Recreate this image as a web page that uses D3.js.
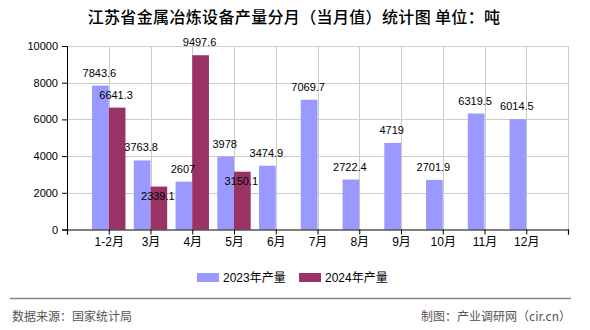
<!DOCTYPE html>
<html><head><meta charset="utf-8">
<script src="https://cdn.jsdelivr.net/npm/d3@7"></script>
<style>body{margin:0;background:#fff}svg{display:block}</style>
</head><body>
<script>
const categories = ["1-2月","3月","4月","5月","6月","7月","8月","9月","10月","11月","12月"];
const values2023 = [7843.6,3763.8,2607,3978,3474.9,7069.7,2722.4,4719,2701.9,6319.5,6014.5];
const values2024 = [6641.3,2339.1,9497.6,3150.1];
const labelPlace2024 = ["top","inside","top","inside"];
const yTicks = [0,2000,4000,6000,8000,10000];
const seriesNames = ["2023年产量","2024年产量"];
const colors = ["#9999FF","#993366"];

const W=590,H=330;
const svg=d3.select("body").append("svg").attr("width",W).attr("height",H);
const numFont='"Liberation Sans","Noto Sans CJK SC",sans-serif';
const cjkFont='"Noto Sans CJK SC",sans-serif';

const x=d3.scaleLinear().domain([0,12]).range([67,568]);
const y=d3.scaleLinear().domain([0,10000]).range([229.5,46]);
const step=x(1)-x(0);
const bw=step*0.4;

// grid
const g=svg.append("g");
g.selectAll(".hg").data(yTicks.filter(d=>d>0)).join("line")
  .attr("x1",x(0)).attr("x2",x(12)).attr("y1",d=>Math.round(y(d))+0.5).attr("y2",d=>Math.round(y(d))+0.5)
  .attr("stroke","#cccccc").attr("stroke-width",1);
g.selectAll(".vg").data(d3.range(1,13)).join("line")
  .attr("x1",d=>Math.round(x(d))+0.5).attr("x2",d=>Math.round(x(d))+0.5).attr("y1",y(10000)).attr("y2",y(0))
  .attr("stroke","#cccccc").attr("stroke-width",1);

// bars
svg.append("g").selectAll("rect").data(values2023).join("rect")
  .attr("x",(d,i)=>x(i+1)-bw).attr("width",bw)
  .attr("y",d=>y(d)).attr("height",d=>y(0)-y(d)).attr("fill",colors[0]);
svg.append("g").selectAll("rect").data(values2024).join("rect")
  .attr("x",(d,i)=>x(i+1)).attr("width",bw)
  .attr("y",d=>y(d)).attr("height",d=>y(0)-y(d)).attr("fill",colors[1]);

// axes
const yAxis=d3.axisLeft(y).tickValues(yTicks).tickSize(5).tickPadding(4).tickFormat(d3.format("d"));
const ya=svg.append("g").attr("transform",`translate(${x(0)},0)`).call(yAxis);
ya.select(".domain").attr("stroke","#000");
ya.selectAll("text").attr("font-family",numFont).attr("font-size",11).attr("fill","#000");
const xAxis=d3.axisBottom(x).tickValues(d3.range(0,13)).tickSize(5).tickPadding(3)
  .tickFormat(d=>(d>=1&&d<=11)?categories[d-1]:"");
const xa=svg.append("g").attr("transform",`translate(0,${y(0)})`).call(xAxis);
xa.select(".domain").attr("stroke","#000").attr("stroke-width",1.2);
xa.selectAll("text").attr("font-family",numFont).attr("font-size",12).attr("fill","#000");

// value labels
const lf=numFont;
svg.append("g").selectAll("text").data(values2023).join("text")
  .attr("x",(d,i)=>x(i+1)-bw/2-1).attr("y",d=>y(d)-9).attr("text-anchor","middle")
  .attr("font-family",lf).attr("font-size",11).attr("fill","#000").text(d=>d);
svg.append("g").selectAll("text").data(values2024).join("text")
  .attr("x",(d,i)=>x(i+1)+bw/2-1).attr("y",(d,i)=>labelPlace2024[i]==="inside"?y(d)+13:y(d)-9)
  .attr("text-anchor","middle")
  .attr("font-family",lf).attr("font-size",11).attr("fill","#000").text(d=>d);

// title
svg.append("text").attr("x",294).attr("y",23).attr("text-anchor","middle")
  .attr("font-family",cjkFont).attr("font-size",16).attr("font-weight",500).attr("letter-spacing",0.35).attr("fill","#000")
  .text("江苏省金属冶炼设备产量分月（当月值）统计图 单位：吨");

// legend
const lg=svg.append("g");
const lx=[197,299];
seriesNames.forEach((n,i)=>{
  lg.append("rect").attr("x",lx[i]).attr("y",273).attr("width",22).attr("height",9).attr("fill",colors[i]);
  lg.append("text").attr("x",lx[i]+26).attr("y",282).attr("font-family",numFont).attr("font-size",12)
    .attr("fill","#000").text(n);
});

// footer
svg.append("line").attr("x1",10).attr("x2",571).attr("y1",298.5).attr("y2",298.5).attr("stroke","#888").attr("stroke-width",1.5);
svg.append("text").attr("x",12).attr("y",321).attr("font-family",cjkFont).attr("font-size",12).attr("fill","#555").text("数据来源：国家统计局");
svg.append("text").attr("x",571).attr("y",321).attr("text-anchor","end").attr("font-family",cjkFont).attr("font-size",12).attr("fill","#555").text("制图：产业调研网（cir.cn）");
</script>
</body></html>
